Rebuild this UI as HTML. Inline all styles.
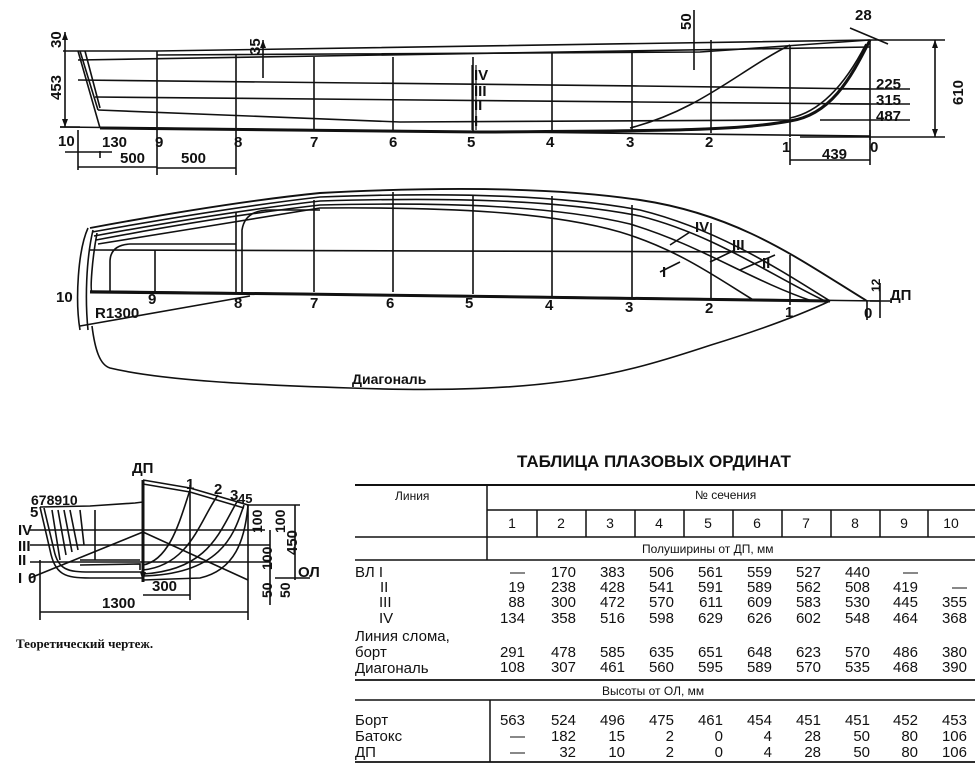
<!DOCTYPE html>
<html><head><meta charset="utf-8"><style>
body{margin:0;background:#fff}
svg{display:block}
text{font-family:"Liberation Sans",sans-serif;fill:#111}
</style></head><body>
<svg width="979" height="775" viewBox="0 0 979 775" xmlns="http://www.w3.org/2000/svg">
<g stroke="#111" fill="none" stroke-width="1.6">
<!-- PROFILE -->
<path d="M63 51 H157 L870 40"/>
<path d="M157 55 L700 52 L870 40" />
<path d="M78 60 L870 47"/>
<path d="M78 80 L640 86 L870 89"/>
<path d="M95 97 L640 102 L870 104"/>
<path d="M98 110 L400 122 L790 120"/>
<path d="M60 127 L870 136"/>
<path d="M78 51 L100 128 M80 51 L98 110 M85 51 L100 108"/>
<path d="M870 40 C850 80 830 115 790 121 C740 130 680 131 480 132 L100 128" stroke-width="3"/>
<path d="M866 44 C845 85 820 112 790 118"/>
<path d="M630 128 C700 110 740 70 790 45"/>
<path d="M157 51 V130 M236 55 V130 M314 57 V130 M393 57 V130 M473 57 V132 M552 53 V130 M632 52 V131 M711 40 V133 M790 45 V137 M870 40 V140"/>
<path d="M472 65 V130 M476 65 V130" stroke-width="1.2"/>
<path d="M100 151 V158 M78 130 V170 M157 130 V175 M236 130 V175 M870 130 V165 M790 138 V165"/>
<path d="M65 152 H112 M78 167 H157 M157 168 H236 M790 160 H870"/>
<path d="M65 32 V127 M60 127 H80"/>
<path d="M263 40 V78 M694 10 V70 M870 40 H945 M935 40 V137 M800 137 H945 M840 89 H910 M840 104 H910 M820 120 H910"/>
<path d="M850 28 L888 44"/>
<!-- PLAN -->
<path d="M90 228 C160 215 250 200 320 193 C450 186 560 188 640 200 C740 215 800 260 867 301" stroke-width="1.9"/>
<path d="M92 232 C170 218 250 205 320 197 C450 192 560 195 640 210 C720 230 780 270 830 301"/>
<path d="M94 236 C170 222 250 209 320 201 C450 197 560 200 640 216 C715 235 770 275 825 301"/>
<path d="M96 240 C170 226 250 213 320 205 C450 202 555 206 630 224 C700 245 750 280 812 301"/>
<path d="M98 244 C170 232 250 220 320 208 C450 207 550 212 620 232 C680 250 720 280 755 301"/>
<path d="M88 228 C78 250 75 300 80 330 M93 230 C86 260 85 300 88 330 M97 233 C92 260 90 290 92 292"/>
<path d="M110 292 V262 Q110 245 130 244 H236 M242 292 V230 Q245 210 270 210 H320"/>
<path d="M90 250 L770 252 M90 291 L880 301"/>
<path d="M90 292 L300 294 L830 301" stroke-width="3"/>
<path d="M155 250 V292 M236 212 V292 M314 200 V292 M393 192 V292 M473 195 V294 M552 196 V296 M632 205 V297 M711 223 V300 M790 255 V305 M867 301 V320"/>
<path d="M92 326 C95 350 100 365 110 368 C160 380 250 385 350 388 C550 395 620 375 711 345 C760 330 800 315 830 301"/>
<path d="M80 326 L250 296"/>
<path d="M880 283 V318 M870 301 H890"/>
<path d="M690 232 L670 245 M775 255 L740 270 M735 250 L710 262 M680 262 L660 272"/>
<!-- SECTION -->
<path d="M143 480 L143 582" stroke-width="3"/>
<path d="M143 480 L190 488 L248 505 C245 540 235 570 200 578 L143 580"/>
<path d="M143 484 L190 492 L244 508"/>
<path d="M40 507 L90 506 L135 503 L143 502"/>
<path d="M40 507 L50 550 C55 575 65 578 90 578 L143 578"/>
<path d="M44 508 L54 550 C58 570 68 572 90 572 L143 572"/>
<path d="M80 565 L140 564 V570 M80 560 H140"/>
<path d="M52 510 L60 560 M58 510 L66 555 M64 510 L72 552 M70 510 L78 550 M80 510 L84 545 M95 510 V560"/>
<path d="M30 530 H265 M30 545 H270 M30 562 H270"/>
<path d="M30 578 L143 532 L248 580"/>
<path d="M143 565 C170 560 180 520 190 490 M143 570 C190 565 200 520 218 495 M143 574 C210 570 220 530 238 500 M143 576 C225 574 235 530 244 505"/>
<path d="M190 485 V600 M143 595 H190 M40 560 V620 M248 505 V620 M40 612 H248"/>
<path d="M248 505 H300 M270 530 V605 M295 505 V580 M275 578 H310"/>
</g>
<g fill="#111">
<polygon points="65,32 62,40 68,40"/><polygon points="65,127 62,119 68,119"/>
<polygon points="263,40 260,48 266,48"/><polygon points="935,40 932,48 938,48"/><polygon points="935,137 932,129 938,129"/>
<polygon points="143,582 140,572 146,572"/>
</g>
<g font-weight="bold" font-size="15">
<text x="58" y="146">10</text><text x="102" y="147">130</text><text x="155" y="147">9</text><text x="234" y="147">8</text><text x="310" y="147">7</text><text x="389" y="147">6</text><text x="467" y="147">5</text><text x="546" y="147">4</text><text x="626" y="147">3</text><text x="705" y="147">2</text><text x="782" y="152">1</text><text x="870" y="152">0</text>
<text x="120" y="163">500</text><text x="181" y="163">500</text><text x="822" y="159">439</text>
<text x="855" y="20">28</text>
<text x="474" y="80">IV</text><text x="474" y="96">III</text><text x="474" y="110">II</text><text x="474" y="126">I</text>
<text x="876" y="89">225</text><text x="876" y="105">315</text><text x="876" y="121">487</text>
<text transform="translate(61,48) rotate(-90)">30</text><text transform="translate(61,100) rotate(-90)">453</text>
<text transform="translate(260,55) rotate(-90)">35</text><text transform="translate(691,30) rotate(-90)">50</text>
<text transform="translate(963,105) rotate(-90)">610</text>
<text x="56" y="302">10</text><text x="95" y="318">R1300</text><text x="148" y="304">9</text><text x="234" y="308">8</text><text x="310" y="308">7</text><text x="386" y="308">6</text><text x="465" y="308">5</text><text x="545" y="310">4</text><text x="625" y="312">3</text><text x="705" y="313">2</text><text x="785" y="317">1</text><text x="864" y="318">0</text>
<text x="890" y="300">ДП</text><text transform="translate(880,292) rotate(-90)" font-size="12">12</text>
<text x="352" y="384" font-size="14">Диагональ</text>
<text x="695" y="232">IV</text><text x="732" y="250">III</text><text x="762" y="268">II</text><text x="662" y="277">I</text>
<text x="132" y="473">ДП</text><text x="186" y="489">1</text><text x="214" y="494">2</text><text x="230" y="500">3</text><text x="238" y="503" font-size="13">45</text>
<text x="31" y="505" font-size="14">678910</text><text x="30" y="517">5</text><text x="18" y="535">IV</text><text x="18" y="551">III</text><text x="18" y="565">II</text><text x="18" y="583">I</text><text x="28" y="583">0</text>
<text x="152" y="591">300</text><text x="102" y="608">1300</text>
<text x="298" y="577">ОЛ</text>
<text transform="translate(262,533) rotate(-90)" font-size="14">100</text><text transform="translate(285,533) rotate(-90)" font-size="14">100</text>
<text transform="translate(272,570) rotate(-90)" font-size="14">100</text><text transform="translate(297,555) rotate(-90)">450</text>
<text transform="translate(272,598) rotate(-90)" font-size="14">50</text><text transform="translate(290,598) rotate(-90)" font-size="14">50</text>
</g>
<text x="16" y="648" font-weight="bold" font-size="13" style="font-family:'Liberation Serif',serif">Теоретический чертеж.</text>
<!-- TABLE -->
<text x="517" y="467" font-size="17" font-weight="bold">ТАБЛИЦА ПЛАЗОВЫХ ОРДИНАТ</text>
<g stroke="#111" stroke-width="1.5">
<line x1="355" y1="485" x2="975" y2="485" stroke-width="2"/>
<line x1="487" y1="485" x2="487" y2="560"/>
<line x1="487" y1="510" x2="975" y2="510"/>
<line x1="355" y1="537" x2="975" y2="537"/>
<line x1="487" y1="560" x2="975" y2="560"/>
<line x1="355" y1="560" x2="487" y2="560"/>
<line x1="355" y1="680" x2="975" y2="680" stroke-width="1.8"/>
<line x1="355" y1="700" x2="975" y2="700"/>
<line x1="490" y1="700" x2="490" y2="762"/>
<line x1="355" y1="762" x2="975" y2="762" stroke-width="1.8"/>
<path d="M537 510V537M586 510V537M635 510V537M684 510V537M733 510V537M782 510V537M831 510V537M880 510V537M928 510V537"/>
</g>
<g font-size="12">
<text x="395" y="500">Линия</text><text x="695" y="499">№ сечения</text>
<text x="642" y="553">Полуширины от ДП, мм</text>
<text x="602" y="695">Высоты от ОЛ, мм</text>
</g>
<g font-size="14" text-anchor="middle">
<text x="512" y="528">1</text><text x="561" y="528">2</text><text x="610" y="528">3</text><text x="659" y="528">4</text><text x="708" y="528">5</text><text x="757" y="528">6</text><text x="806" y="528">7</text><text x="855" y="528">8</text><text x="904" y="528">9</text><text x="951" y="528">10</text>
</g>
<g font-size="15">
<text x="355" y="577">ВЛ  I</text><text x="380" y="592">II</text><text x="379" y="607">III</text><text x="379" y="623">IV</text>
<text x="355" y="641">Линия слома,</text><text x="355" y="657">борт</text><text x="355" y="673">Диагональ</text>
<text x="355" y="725">Борт</text><text x="355" y="741">Батокс</text><text x="355" y="757">ДП</text>
</g>
<g font-size="15" text-anchor="end">
<text x="525" y="577">—</text><text x="576" y="577">170</text><text x="625" y="577">383</text><text x="674" y="577">506</text><text x="723" y="577">561</text><text x="772" y="577">559</text><text x="821" y="577">527</text><text x="870" y="577">440</text><text x="918" y="577">—</text>
<text x="525" y="592">19</text><text x="576" y="592">238</text><text x="625" y="592">428</text><text x="674" y="592">541</text><text x="723" y="592">591</text><text x="772" y="592">589</text><text x="821" y="592">562</text><text x="870" y="592">508</text><text x="918" y="592">419</text><text x="967" y="592">—</text>
<text x="525" y="607">88</text><text x="576" y="607">300</text><text x="625" y="607">472</text><text x="674" y="607">570</text><text x="723" y="607">611</text><text x="772" y="607">609</text><text x="821" y="607">583</text><text x="870" y="607">530</text><text x="918" y="607">445</text><text x="967" y="607">355</text>
<text x="525" y="623">134</text><text x="576" y="623">358</text><text x="625" y="623">516</text><text x="674" y="623">598</text><text x="723" y="623">629</text><text x="772" y="623">626</text><text x="821" y="623">602</text><text x="870" y="623">548</text><text x="918" y="623">464</text><text x="967" y="623">368</text>
<text x="525" y="657">291</text><text x="576" y="657">478</text><text x="625" y="657">585</text><text x="674" y="657">635</text><text x="723" y="657">651</text><text x="772" y="657">648</text><text x="821" y="657">623</text><text x="870" y="657">570</text><text x="918" y="657">486</text><text x="967" y="657">380</text>
<text x="525" y="672">108</text><text x="576" y="672">307</text><text x="625" y="672">461</text><text x="674" y="672">560</text><text x="723" y="672">595</text><text x="772" y="672">589</text><text x="821" y="672">570</text><text x="870" y="672">535</text><text x="918" y="672">468</text><text x="967" y="672">390</text>
<text x="525" y="725">563</text><text x="576" y="725">524</text><text x="625" y="725">496</text><text x="674" y="725">475</text><text x="723" y="725">461</text><text x="772" y="725">454</text><text x="821" y="725">451</text><text x="870" y="725">451</text><text x="918" y="725">452</text><text x="967" y="725">453</text>
<text x="525" y="741">—</text><text x="576" y="741">182</text><text x="625" y="741">15</text><text x="674" y="741">2</text><text x="723" y="741">0</text><text x="772" y="741">4</text><text x="821" y="741">28</text><text x="870" y="741">50</text><text x="918" y="741">80</text><text x="967" y="741">106</text>
<text x="525" y="757">—</text><text x="576" y="757">32</text><text x="625" y="757">10</text><text x="674" y="757">2</text><text x="723" y="757">0</text><text x="772" y="757">4</text><text x="821" y="757">28</text><text x="870" y="757">50</text><text x="918" y="757">80</text><text x="967" y="757">106</text>
</g>
</svg>
</body></html>
